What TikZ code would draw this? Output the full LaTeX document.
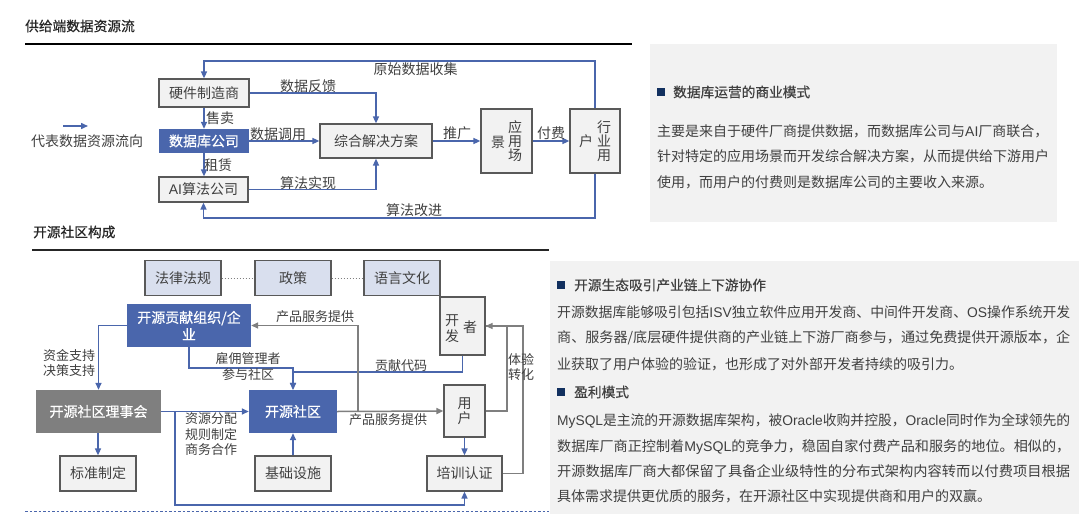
\documentclass[tikz,border=0pt]{standalone}
\usepackage{fontspec}
\usepackage{graphicx}
\usetikzlibrary{arrows.meta}
\setmainfont{Noto Sans CJK SC}
\newfontfamily\lat{Liberation Sans}
\newfontfamily\med[FakeBold=0.5]{Noto Sans CJK SC}
\newcommand\jl[2]{\resizebox{#1}{\height}{#2}}
\definecolor{flow}{HTML}{4A66AC}
\definecolor{grayflow}{HTML}{7F7F7F}
\definecolor{ink}{HTML}{404040}
\definecolor{navy}{HTML}{12305F}
\definecolor{edge}{HTML}{595959}
\definecolor{panelbg}{HTML}{F2F2F2}
\definecolor{lav}{HTML}{D9DFEE}
\tikzset{
  txt/.style={inner sep=0pt,text=ink,font=\fontsize{14}{17}\selectfont,align=center},
  lab/.style={txt,font=\fontsize{13}{15.5}\selectfont},
  para/.style={inner sep=0pt,anchor=west,text=ink,font=\fontsize{14}{17}\selectfont},
  head/.style={inner sep=0pt,anchor=west,text=black!85,font=\fontsize{13.7}{16}\selectfont\med},
  ptitle/.style={inner sep=0pt,anchor=west,text=ink,font=\fontsize{13.7}{16}\selectfont\med},
  bullet/.style={fill=navy,inner sep=0pt,minimum width=8pt,minimum height=8pt},
  panel/.style={fill=panelbg,draw=none,inner sep=0pt},
  box/.style={draw=edge,line width=1.2pt,fill=panelbg,inner sep=0pt,text=ink,font=\fontsize{14}{17}\selectfont,align=center},
  lavbox/.style={box,fill=lav,minimum width=76pt,minimum height=35.5pt},
  solid/.style={inner sep=0pt,text=white,align=center,font=\fontsize{14}{17}\selectfont\med},
  bluebox/.style={solid,fill=flow},
  flowline/.style={draw=flow,line width=1.5pt},
  flowarrow/.style={flowline,-{Triangle[length=7pt,width=6pt]}},
  greyline/.style={draw=grayflow,line width=1.5pt},
  greyarrow/.style={greyline,-{Triangle[length=7pt,width=6pt]}},
}
\begin{document}
\begin{tikzpicture}[x=1pt,y=-1pt]
\useasboundingbox (0,0) rectangle (1087,514);
\fill[white] (0,0) rectangle (1087,514);
% panels
\node[panel,minimum width=407pt,minimum height=178pt] (p1) at (853.5,133) {};
\node[panel,minimum width=529pt,minimum height=253pt] (p2) at (814.5,387.5) {};
% section headings
\node[head] (h1) at (25,26) {供给端数据资源流};
\node[head] (h2) at (33,232) {开源社区构成};
\coordinate (r1a) at (25,43.5); \coordinate (r1b) at (632,43.5);
\draw[black,line width=2pt] (r1a) -- (r1b);
\coordinate (r2a) at (32,250); \coordinate (r2b) at (549,250);
\draw[black!85,line width=1.6pt] (r2a) -- (r2b);
\coordinate (r3a) at (25,511.5); \coordinate (r3b) at (549,511.5);
\draw[flow,line width=1.3pt,dash pattern=on 2.5pt off 2pt] (r3a) -- (r3b);
% top diagram
\node[box,minimum width=90pt,minimum height=28pt] (hw) at (204,93) {硬件制造商};
\node[bluebox,minimum width=90pt,minimum height=24pt] (db) at (204,141) {数据库公司};
\node[box,minimum width=89pt,minimum height=25pt] (ai) at (203.5,189.5) {{\lat AI}算法公司};
\node[box,minimum width=112pt,minimum height=34pt] (sol) at (376,141) {综合解决方案};
\node[box,minimum width=51pt,minimum height=64pt] (scene) at (506.5,141) {};
\node[txt] (scene1) at (515,141) {应\\[-3pt]用\\[-3pt]场};
\node[txt] (scene2) at (498,142) {景};
\node[box,minimum width=50pt,minimum height=64pt] (ind) at (595,141) {};
\node[txt] (ind1) at (604,141) {行\\[-3pt]业\\[-3pt]用};
\node[txt] (ind2) at (586,141) {户};
\coordinate (top) at (400,61);
\coordinate (bot) at (400,218);
\draw[flowarrow] (ind.north) |- (top) -| (hw.north);
\draw[flowarrow] (ind.south) |- (bot) -| (ai.south);
\draw[flowarrow] (hw.east) -| (sol.north);
\draw[flowarrow] (ai.east) -| (sol.south);
\draw[flowarrow] (hw.south) -- (db.north);
\draw[flowarrow] (db.south) -- (db.south |- ai.north);
\draw[flowarrow] (db.east) -- (sol.west);
\draw[flowarrow] (sol.east) -- (scene.west);
\draw[flowarrow] (scene.east) -- (ind.west);
\coordinate (lega) at (63,126); \coordinate (legb) at (88,126);
\draw[flowarrow] (lega) -- (legb);
\node[txt] (leg) at (87,141) {代表数据资源流向};
\node[txt] (l1) at (415.5,69) {原始数据收集};
\node[txt] (l2) at (308,86) {数据反馈};
\node[txt] (l3) at (220,118) {售卖};
\node[txt] (l4) at (278,134) {数据调用};
\node[txt] (l5) at (218,165) {租赁};
\node[txt] (l6) at (308,183) {算法实现};
\node[txt] (l7) at (414,210) {算法改进};
\node[txt] (l8) at (457,133) {推广};
\node[txt] (l9) at (551,133) {付费};
% lower diagram
\node[lavbox] (law) at (183,278) {法律法规};
\node[lavbox] (pol) at (293,278) {政策};
\node[lavbox] (lang) at (402,278) {语言文化};
\draw[grayflow,line width=1pt,dotted] (law.east) -- (pol.west);
\draw[grayflow,line width=1pt,dotted] (pol.east) -- (lang.west);
\node[bluebox,minimum width=124pt,minimum height=43pt] (org) at (189,325.5) {开源贡献组织/企\\业};
\node[box,minimum width=45pt,minimum height=58pt] (dev) at (462.5,326) {};
\node[txt] (dev1) at (452,329) {开\\[-1pt]发};
\node[txt] (dev2) at (470,327) {者};
\node[solid,fill=grayflow,minimum width=125pt,minimum height=43pt] (council) at (98.5,411.5) {开源社区理事会};
\node[bluebox,minimum width=88pt,minimum height=43pt] (comm) at (293,411.5) {开源社区};
\node[box,minimum width=76pt,minimum height=35pt] (std) at (98,473.5) {标准制定};
\node[box,minimum width=76pt,minimum height=35pt] (infra) at (293,473.5) {基础设施};
\node[box,minimum width=41pt,minimum height=52pt] (usr) at (464.5,411) {用\\[-2pt]户};
\node[box,minimum width=75pt,minimum height=35pt] (train) at (464.5,473.5) {培训认证};
\coordinate (m1) at (240,368);
\coordinate (m2) at (380,372);
\coordinate (j1) at (175,411.5);
\coordinate (m3) at (300,505);
\coordinate (j2) at (358,411.5);
\coordinate (m4) at (507,326);
\coordinate (m5) at (523,326);
\draw[flowarrow] (org.west) -| (council.north);
\draw[flowarrow] (org.south) |- (m1) -| (comm.north);
\draw[flowarrow] (dev.south) |- (m2) -| (comm.north);
\draw[flowarrow] (council.east) -- (comm.west);
\draw[flowarrow] (j1) |- (m3) -| (train.south);
\draw[flowarrow] (council.south -| std.north) -- (std.north);
\draw[flowarrow] (infra.north) -- (comm.south);
\draw[flowarrow] (usr.south) -- (train.north);
\draw[greyarrow] (comm.east) -- (usr.west);
\draw[greyarrow] (j2) |- (org.east);
\draw[greyline] (usr.east) -| (m4) -- (dev.east);
\draw[greyarrow] (train.east) -| (m5) -- (dev.east);
\node[lab] (a1) at (69,363) {资金支持\\决策支持};
\node[lab] (a2) at (248,366.5) {雇佣管理者\\参与社区};
\node[lab] (a3) at (211,434.5) {资源分配\\规则制定\\商务合作};
\node[lab] (a4) at (315,317) {产品服务提供};
\node[lab] (a5) at (401,366) {贡献代码};
\node[lab] (a6) at (388,420) {产品服务提供};
\node[lab] (a7) at (521,367) {体验\\转化};
% panel 1 text
\node[bullet] (b1) at (661,91.5) {};
\node[ptitle] (t1) at (673,92) {数据库运营的商业模式};
\node[para] (p11) at (657,131) {主要是来自于硬件厂商提供数据，而数据库公司与{\lat AI}厂商联合，};
\node[para] (p12) at (657,156) {针对特定的应用场景而开发综合解决方案，从而提供给下游用户};
\node[para] (p13) at (657,182) {使用，而用户的付费则是数据库公司的主要收入来源。};
% panel 2 text
\node[bullet] (b2) at (561,284.5) {};
\node[ptitle] (t2) at (574,285) {开源生态吸引产业链上下游协作};
\node[para] (p21) at (557,312) {\jl{513pt}{开源数据库能够吸引包括{\lat ISV}独立软件应用开发商、中间件开发商、{\lat OS}操作系统开发}};
\node[para] (p22) at (557,338) {\jl{513pt}{商、服务器/底层硬件提供商的产业链上下游厂商参与，通过免费提供开源版本，企}};
\node[para] (p23) at (557,364) {业获取了用户体验的验证，也形成了对外部开发者持续的吸引力。};
\node[bullet] (b3) at (561,391.5) {};
\node[ptitle] (t3) at (574,392) {盈利模式};
\node[para] (p24) at (557,421) {\jl{513pt}{{\lat MySQL}是主流的开源数据库架构，被{\lat Oracle}收购并控股，{\lat Oracle}同时作为全球领先的}};
\node[para] (p25) at (557,447) {\jl{513pt}{数据库厂商正控制着{\lat MySQL}的竞争力，稳固自家付费产品和服务的地位。相似的，}};
\node[para] (p26) at (557,471.5) {\jl{513pt}{开源数据库厂商大都保留了具备企业级特性的分布式架构内容转而以付费项目根据}};
\node[para] (p27) at (557,496) {具体需求提供更优质的服务，在开源社区中实现提供商和用户的双赢。};
\end{tikzpicture}
\end{document}
